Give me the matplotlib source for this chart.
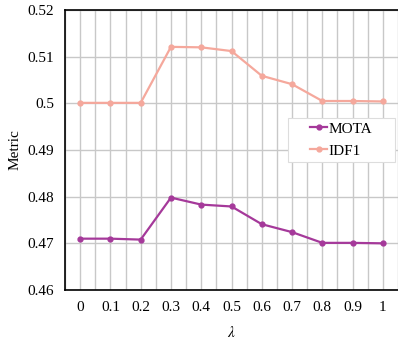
import numpy as np
import matplotlib
matplotlib.use('Agg')
import matplotlib.pyplot as plt
from matplotlib.patches import Rectangle

plt.rcParams['font.family'] = ['Liberation Serif', 'DejaVu Serif']
plt.rcParams['mathtext.fontset'] = 'stix'

# 数据
lam = [0, 0.1, 0.2, 0.3, 0.4, 0.5, 0.6, 0.7, 0.8, 0.9, 1]
lam_labels = ['0', '0.1', '0.2', '0.3', '0.4', '0.5', '0.6', '0.7', '0.8', '0.9', '1']
mota = [0.4710, 0.4710, 0.4708, 0.4798, 0.4783, 0.4779, 0.4741, 0.4724, 0.4701, 0.4701, 0.4700]
idf1 = [0.5001, 0.5001, 0.5001, 0.5121, 0.5120, 0.5112, 0.5059, 0.5041, 0.5005, 0.5005, 0.5004]
y_ticks = [0.46, 0.47, 0.48, 0.49, 0.5, 0.51, 0.52]
y_labels = ['0.46', '0.47', '0.48', '0.49', '0.5', '0.51', '0.52']

fig = plt.figure(figsize=(3.98, 3.39), dpi=100)
ax = fig.add_axes([65 / 398, 1 - 290 / 339, 333 / 398, 280 / 339])

ax.plot(lam, mota, color='#a5399a', lw=1.6, marker='o', ms=3.5, label='MOTA', zorder=3)
ax.plot(lam, idf1, color='#f5a89c', lw=1.6, marker='o', ms=3.5, label='IDF1', zorder=3)

ax.set_xlim(-0.05, 1.043)
ax.set_ylim(0.46, 0.52)
ax.set_xticks(lam)
ax.set_xticklabels(lam_labels)
ax.set_xticks(np.arange(-0.05, 1.06, 0.1), minor=True)
ax.set_yticks(y_ticks)
ax.set_yticklabels(y_labels)

ax.grid(True, which='both', axis='x', color='#c8c8c8', lw=1.0, zorder=0)
ax.grid(True, which='major', axis='y', color='#c8c8c8', lw=1.0, zorder=0)
ax.tick_params(which='both', length=0, labelsize=11, pad=8)

for s in ['left', 'bottom', 'top']:
    ax.spines[s].set_color('black')
    ax.spines[s].set_linewidth(1.2)
ax.spines['right'].set_visible(False)

ax.set_xlabel(r'$\lambda$', fontsize=11, labelpad=8)
ax.set_ylabel('Metric', fontsize=11, labelpad=4)

# 图例框（手动画，内容居中）
ax.add_patch(Rectangle((0.670, 0.457), 0.321, 0.157, transform=ax.transAxes,
                       facecolor='white', edgecolor='#dddddd', lw=0.8, zorder=4))
leg = ax.legend(loc='center', bbox_to_anchor=(0.83, 0.536), fontsize=11,
                handlelength=1.1, handletextpad=0.1, borderpad=0.2, labelspacing=0.55,
                frameon=False)
leg.set_zorder(5)

fig.savefig('out.png', dpi=100)
